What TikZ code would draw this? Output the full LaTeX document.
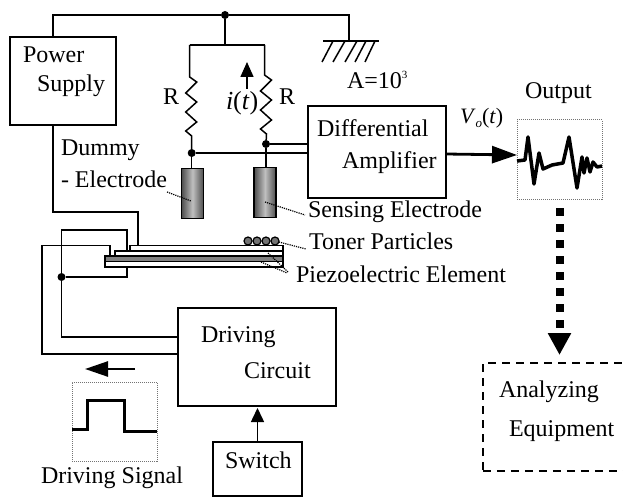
\documentclass[tikz,border=0pt]{standalone}
\usepackage{fontspec}
\setmainfont{Liberation Serif}
\usetikzlibrary{arrows.meta}

\tikzset{
	box/.style={shape=rectangle,draw=black,line width=1.5pt,inner sep=0pt,outer sep=0pt},
	scopebox/.style={shape=rectangle,draw=black!55,densely dotted,line width=1pt,inner sep=0pt,outer sep=0pt},
	txt/.style={anchor=base west,inner sep=0pt,outer sep=0pt,font=\fontsize{24}{24}\selectfont},
	wire/.style={draw=black,line width=1.5pt},
	dot/.style={shape=circle,fill=black,inner sep=0pt,outer sep=0pt,minimum size=8pt},
	leader/.style={draw=black,densely dotted,line width=1.2pt},
	electrode/.style={box,left color=black!70,right color=black!70,middle color=black!25,minimum width=22pt,minimum height=50pt},
	toner/.style={shape=circle,draw=black,fill=black!55,line width=1.2pt,inner sep=0pt,outer sep=0pt,minimum size=8pt},
	layer/.style={box,fill=white,anchor=north east},
	zigzag/.style={insert path={-- ++(7,5) -- ++(-11,11) -- ++(11,9) -- ++(-11,10) -- ++(11,10) -- ++(-11,9) -- ++(6,5)}}
}

\begin{document}
\begin{tikzpicture}[x=1pt,y=-1pt]
	\useasboundingbox (0,0) rectangle (623,497);

	\node[box,minimum width=106pt,minimum height=88pt] (power) at (63,81) {};
	\node[box,minimum width=138pt,minimum height=92pt] (amp) at (377,152) {};
	\node[box,minimum width=158pt,minimum height=98pt] (driving) at (257,357) {};
	\node[box,minimum width=89pt,minimum height=54pt] (switch) at (257.5,469) {};
	\node[box,dash pattern=on 8pt off 6pt,minimum width=141.5pt,minimum height=108pt] (analyzing) at (553.7,417) {};
	\node[scopebox,minimum width=85pt,minimum height=79pt] (output) at (559.5,159.5) {};
	\node[scopebox,minimum width=85pt,minimum height=79pt] (signal) at (114.5,421.5) {};

	\node[txt] (powerA) at (23,63) {Power};
	\node[txt] (powerB) at (37,92) {Supply};
	\node[txt] (ampA) at (317,137) {Differential};
	\node[txt] (ampB) at (342,168) {Amplifier};
	\node[txt] (drivingA) at (201,342) {Driving};
	\node[txt] (drivingB) at (244,378) {Circuit};
	\node[txt] (switchA) at (225,468) {Switch};
	\node[txt] (analyzingA) at (499,397) {Analyzing};
	\node[txt] (analyzingB) at (509,436) {Equipment};
	\node[txt] (dummyA) at (61,156) {Dummy};
	\node[txt] (dummyB) at (61,187) {- Electrode};
	\node[txt] (sensing) at (308,217) {Sensing Electrode};
	\node[txt] (particles) at (309,249) {Toner Particles};
	\node[txt] (piezo) at (296,282) {Piezoelectric Element};
	\node[txt] (outputA) at (525,99) {Output};
	\node[txt] (signalA) at (41,483) {Driving Signal};
	\node[txt] (gain) at (347,89) {A=10\raisebox{10pt}{\fontsize{11}{11}\selectfont 3}};
	\node[txt] (rA) at (163,105) {R};
	\node[txt] (rB) at (279,105) {R};
	\node[txt,font=\fontsize{26}{26}\selectfont] (current) at (226,110) {\textit{i}(\textit{t})};
	\node[txt,font=\fontsize{22}{22}\selectfont] (vout) at (460,124) {\textit{V}\raisebox{-4pt}{\fontsize{13}{13}\selectfont\textit{o}}(\textit{t})};

	% top rail and ground
	\node[dot] (top) at (225,15) {};
	\coordinate (railL) at (53,15);
	\coordinate (railR) at (349,15);
	\coordinate (gnd) at (349,41);
	\coordinate (gndL) at (323,41);
	\coordinate (gndR) at (379,41);
	\draw[wire] (power.north -| railL) -- (railL) -- (top) -- (railR) -- (gnd);
	\draw[wire] (gndL) -- (gndR);
	\draw[wire] (333,41) -- (322,62);
	\draw[wire] (345,41) -- (333,62);
	\draw[wire] (357,41) -- (345,62);
	\draw[wire] (366,41) -- (355,62);
	\draw[wire] (375,41) -- (365,62);

	% bridge
	\coordinate (split) at (225,45);
	\coordinate (splitL) at (189.7,45);
	\coordinate (splitR) at (264.5,45);
	\coordinate (zigL) at (189.7,77);
	\coordinate (zigR) at (264.5,75);
	\node[dot] (dotL) at (191.7,153) {};
	\node[dot] (dotR) at (266,144) {};
	\node[electrode] (dummy) at (192.5,193.5) {};
	\node[electrode] (sense) at (265,192.5) {};
	\draw[wire] (top) -- (split);
	\draw[wire] (splitL) -- (splitR);
	\draw[wire] (splitL) -- (zigL) [zigzag] -- (dotL);
	\draw[wire] (splitR) -- (zigR) [zigzag] -- (dotR);
	\draw[wire] (dotL) -- (dummy.north -| dotL);
	\draw[wire] (dotR) -- (sense.north -| dotR);
	\draw[wire] (dotL) -- (dotL -| amp.west);
	\draw[wire] (dotR) -- (dotR -| amp.west);

	% cantilever
	\node[layer,minimum width=153pt,minimum height=6pt] (layerA) at (283,245.5) {};
	\node[layer,minimum width=168pt,minimum height=5pt] (layerB) at (283,251) {};
	\node[layer,fill=black!50,minimum width=178pt,minimum height=5.5pt] (layerC) at (283,256) {};
	\node[layer,minimum width=178pt,minimum height=5.5pt] (layerD) at (283,261.5) {};
	\node[toner] (tonerA) at (248,241) {};
	\node[toner] (tonerB) at (257,241) {};
	\node[toner] (tonerC) at (266,241) {};
	\node[toner] (tonerD) at (275,241) {};

	% wiring to the cantilever
	\coordinate (dumA) at (53,212);
	\coordinate (dumB) at (138,212);
	\coordinate (dumC) at (138,245.5);
	\draw[wire] (power.south -| dumA) -- (dumA) -- (dumB) -- (dumC);
	\node[dot] (junction) at (61.5,277) {};
	\coordinate (midA) at (61.5,230);
	\coordinate (midB) at (127,230);
	\coordinate (midC) at (127,251);
	\coordinate (lowA) at (127,277);
	\coordinate (lowB) at (127,267);
	\coordinate (midD) at (61.5,337);
	\draw[wire] (midC) -- (midB) -- (midA) -- (junction) -- (midD) -- (midD -| driving.west);
	\draw[wire] (junction) -- (lowA) -- (lowB);
	\coordinate (outA) at (110,256);
	\coordinate (outB) at (110,245.5);
	\coordinate (outC) at (42,245.5);
	\coordinate (outD) at (42,354);
	\draw[wire] (outA) -- (outB) -- (outC) -- (outD) -- (outD -| driving.west);

	% leaders
	\coordinate (dummyEnd) at (191,201);
	\coordinate (senseEnd) at (265,202);
	\coordinate (piezoA) at (261,262);
	\coordinate (piezoB) at (268,253);
	\draw[leader] (167,192) -- (dummyEnd);
	\draw[leader] (senseEnd) -- (305,215);
	\draw[leader] (tonerD) -- (306,249);
	\draw[leader] (piezoA) -- (287,273);
	\draw[leader] (piezoB) -- (288,272);

	% arrows
	\coordinate (ampOut) at (446,154);
	\coordinate (outIn) at (517,155);
	\coordinate (thin) at (247,89);
	\coordinate (thinEnd) at (247,62);
	\coordinate (pulseA) at (135,369);
	\coordinate (pulseB) at (85,369);
	\draw[-{Triangle[length=25pt,width=17pt]},line width=2.8pt] (ampOut) -- (outIn);
	\draw[-{Triangle[length=15pt,width=13pt]},wire] (thin) -- (thinEnd);
	\draw[-{Triangle[length=23pt,width=15pt]},line width=2.5pt] (pulseA) -- (pulseB);
	\draw[-{Triangle[length=14pt,width=13pt]},wire,shorten >=2pt] (switch.north) -- (driving.south -| switch.north);
	\draw[-{Triangle[length=22pt,width=22pt]},line width=8pt,dash pattern=on 8pt off 8pt,shorten <=9pt,shorten >=8pt] (output.south) -- (output.south |- analyzing.north);

	% traces
	\draw[line width=3.5pt,line join=round] (517,161) -- (525,160) -- (528,137) -- (534,184) -- (539,153) -- (543,169) -- (552,165) -- (563,163) -- (569,137) -- (577,188) -- (582,157) -- (584,173) -- (587,158) -- (590,172) -- (593,162) -- (597,167) -- (602,166);
	\draw[line width=3pt] (72,429) -- (87,429) -- (87,400) -- (124,400) -- (124,431) -- (157,431);
\end{tikzpicture}
\end{document}
